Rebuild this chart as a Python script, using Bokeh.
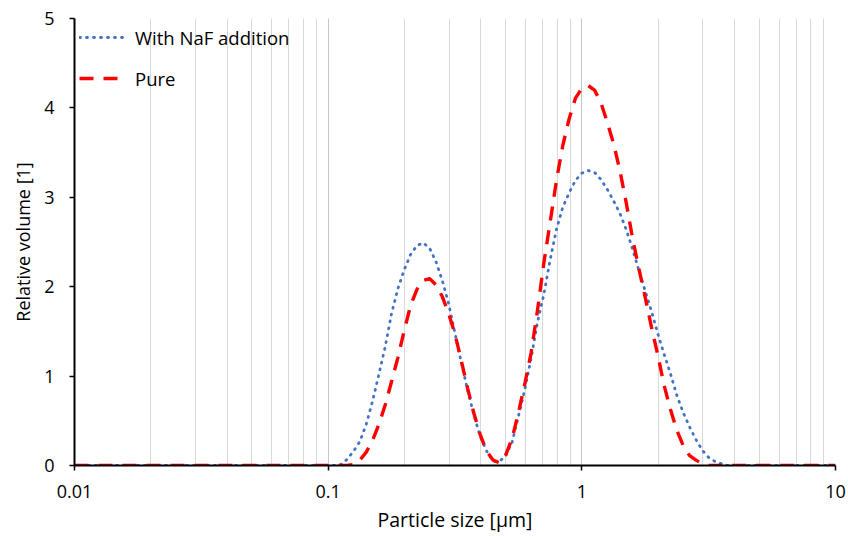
from bokeh.plotting import figure
from bokeh.models import Legend, LegendItem, FixedTicker, LogTicker, CustomJSTickFormatter
from bokeh.embed import file_html
from bokeh.resources import INLINE

size_um = [0.01, 0.01778, 0.03162, 0.05623, 0.1, 0.1059, 0.1122, 0.1189, 0.1259, 0.1334, 0.1413,
           0.1496, 0.1585, 0.1679, 0.1778, 0.1884, 0.1995, 0.2113, 0.2239, 0.2371, 0.2512,
           0.2661, 0.2818, 0.2985, 0.3162, 0.3350, 0.3548, 0.3758, 0.3981, 0.4217, 0.4467,
           0.4732, 0.5012, 0.5309, 0.5623, 0.5957, 0.6310, 0.6683, 0.7079, 0.7499, 0.7943,
           0.8414, 0.8913, 0.9441, 1.0, 1.059, 1.122, 1.189, 1.259, 1.334, 1.413, 1.496,
           1.585, 1.679, 1.778, 1.884, 1.995, 2.113, 2.239, 2.371, 2.512, 2.661, 2.818,
           2.985, 3.162, 3.350, 3.548, 3.758, 3.981, 5.623, 10.0]

naf = [0, 0, 0, 0, 0, 0, 0.01, 0.07, 0.16, 0.27, 0.46,
       0.72, 1.02, 1.33, 1.70, 1.98, 2.19, 2.36, 2.46, 2.49, 2.43,
       2.28, 2.07, 1.81, 1.48, 1.15, 0.84, 0.56, 0.32, 0.16, 0.045,
       0.045, 0.11, 0.26, 0.55, 0.85, 1.20, 1.60, 1.91, 2.30, 2.64,
       2.89, 3.05, 3.19, 3.27, 3.30, 3.28, 3.20, 3.09, 2.96, 2.82, 2.64,
       2.42, 2.18, 1.95, 1.72, 1.47, 1.24, 1.02, 0.78, 0.59, 0.43, 0.29,
       0.17, 0.09, 0.045, 0.02, 0, 0, 0, 0]

pure = [0, 0, 0, 0, 0, 0, 0, 0, 0.01, 0.06, 0.15,
        0.28, 0.46, 0.68, 0.94, 1.21, 1.51, 1.79, 1.97, 2.07, 2.09,
        2.02, 1.89, 1.70, 1.47, 1.17, 0.86, 0.58, 0.34, 0.16, 0.06,
        0.03, 0.12, 0.30, 0.59, 0.91, 1.26, 1.73, 2.26, 2.72, 3.19,
        3.58, 3.88, 4.11, 4.22, 4.25, 4.20, 4.06, 3.84, 3.60, 3.30, 2.94,
        2.54, 2.20, 1.88, 1.54, 1.23, 0.89, 0.62, 0.39, 0.22, 0.11, 0.06,
        0.02, 0, 0, 0, 0, 0, 0, 0]

x_ticks = [0.01, 0.1, 1, 10]
y_ticks = [0, 1, 2, 3, 4, 5]
x_title = "Particle size [µm]"
y_title = "Relative volume [1]"
names = ["With NaF addition", "Pure"]

FONT = "Open Sans"
FS = "18px"

p = figure(width=848, height=536, x_axis_type="log", x_range=(0.01, 10), y_range=(0, 5),
           output_backend="svg", toolbar_location=None)
p.min_border_left = 74
p.min_border_right = 13
p.min_border_top = 18
p.min_border_bottom = 71
p.outline_line_color = None
p.background_fill_color = "white"
p.border_fill_color = "white"

# grid
p.ygrid.grid_line_color = None
p.xgrid.ticker = LogTicker(num_minor_ticks=10)
p.xgrid.grid_line_color = "#C8C8C8"
p.xgrid.grid_line_width = 1
p.xgrid.minor_grid_line_color = "#D9D9D9"
p.xgrid.minor_grid_line_width = 1

# x axis
xa = p.xaxis[0]
xa.ticker = FixedTicker(ticks=x_ticks)
xa.formatter = CustomJSTickFormatter(code="return tick < 1 ? tick.toString() : tick.toFixed(0);")
xa.axis_line_color = "black"
xa.axis_line_width = 2
xa.major_tick_line_color = "black"
xa.major_tick_line_width = 1.5
xa.major_tick_out = 5
xa.major_tick_in = 0
xa.minor_tick_line_color = None
xa.major_label_standoff = 14
xa.major_label_text_font = FONT
xa.major_label_text_font_size = FS
xa.major_label_text_color = "black"
xa.axis_label = x_title
xa.axis_label_text_font = FONT
xa.axis_label_text_font_size = "19.5px"
xa.axis_label_text_font_style = "normal"
xa.axis_label_text_color = "black"
xa.axis_label_standoff = 5

ya = p.yaxis[0]
ya.ticker = FixedTicker(ticks=y_ticks)
ya.axis_line_color = "black"
ya.axis_line_width = 2
ya.major_tick_line_color = "black"
ya.major_tick_line_width = 1.5
ya.major_tick_out = 5
ya.major_tick_in = 0
ya.minor_tick_line_color = None
ya.major_label_standoff = 15
ya.major_label_text_font = FONT
ya.major_label_text_font_size = FS
ya.major_label_text_color = "black"
ya.axis_label = y_title
ya.axis_label_text_font = FONT
ya.axis_label_text_font_size = FS
ya.axis_label_text_font_style = "normal"
ya.axis_label_text_color = "black"
ya.axis_label_standoff = 6

r_naf = p.line(size_um, naf, line_color="#4472C4", line_width=2.8, line_dash="1 6",
               line_cap="round", line_join="round")
r_pure = p.line(size_um, pure, line_color="#FF0000", line_width=3.4, line_dash="14 10",
                line_cap="butt", line_join="round")

legend = Legend(items=[LegendItem(label=names[0], renderers=[r_naf]),
                       LegendItem(label=names[1], renderers=[r_pure])],
                location="top_left")
legend.border_line_color = None
legend.background_fill_alpha = 0
legend.margin = 5
legend.padding = 8
legend.glyph_width = 46
legend.glyph_height = 28
legend.label_height = 28
legend.spacing = 13
legend.label_standoff = 10
legend.label_text_font = FONT
legend.label_text_font_size = "18.5px"
legend.label_text_color = "black"
p.add_layout(legend, "center")

open("out.html", "w").write(file_html(p, INLINE))
